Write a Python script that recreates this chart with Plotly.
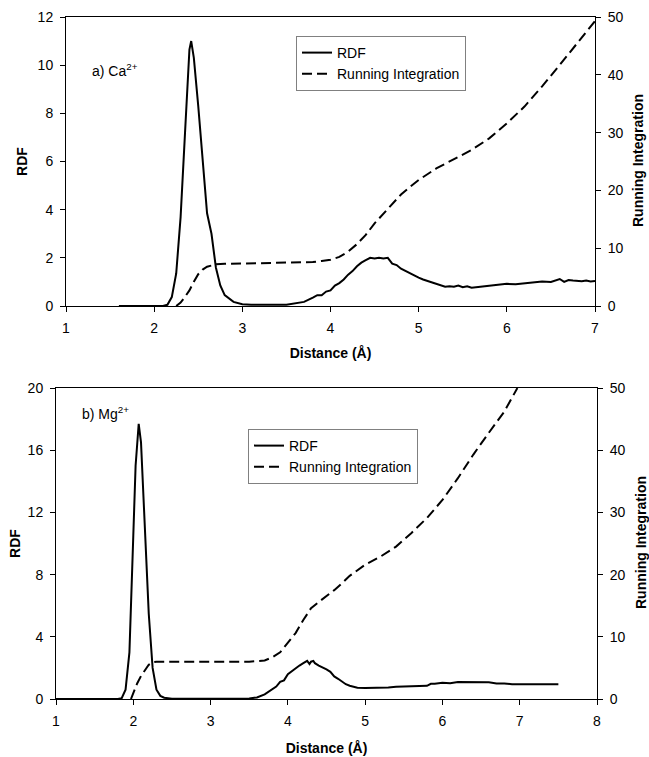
import plotly.graph_objects as go

# ---- Panel a) Ca2+ ----
ca_rdf_x = [1.6, 2.1, 2.15, 2.2, 2.25, 2.3, 2.35, 2.4, 2.42, 2.45, 2.5, 2.55, 2.6, 2.65, 2.7, 2.75, 2.8, 2.9,
            3.0, 3.1, 3.2, 3.3, 3.4, 3.5, 3.6, 3.7, 3.8, 3.85, 3.9, 3.95, 4.0, 4.05, 4.1, 4.15, 4.2, 4.25,
            4.3, 4.35, 4.4, 4.45, 4.5, 4.55, 4.6, 4.65, 4.7, 4.75, 4.8, 4.85, 4.9, 4.95, 5.0, 5.05, 5.1,
            5.15, 5.2, 5.25, 5.3, 5.35, 5.4, 5.45, 5.5, 5.55, 5.6, 5.7, 5.8, 5.9, 6.0, 6.1, 6.2, 6.3, 6.4,
            6.5, 6.55, 6.6, 6.65, 6.7, 6.75, 6.8, 6.85, 6.9, 6.95, 7.0]
ca_rdf_y = [0, 0, 0.05, 0.37, 1.35, 3.7, 7.2, 10.65, 11.0, 10.3, 8.3, 6.1, 3.85, 3.0, 1.6, 0.85, 0.45, 0.17,
            0.07, 0.05, 0.04, 0.04, 0.05, 0.05, 0.1, 0.17, 0.35, 0.45, 0.45, 0.6, 0.65, 0.85, 0.95, 1.1, 1.3, 1.45,
            1.65, 1.8, 1.9, 2.0, 1.97, 2.0, 1.97, 2.0, 1.76, 1.7, 1.55, 1.45, 1.37, 1.25, 1.18, 1.1, 1.04,
            0.95, 0.9, 0.85, 0.8, 0.82, 0.8, 0.85, 0.78, 0.82, 0.76, 0.8, 0.85, 0.87, 0.92, 0.9, 0.95, 1.0, 1.02,
            1.0, 1.05, 1.12, 1.0, 1.08, 1.06, 1.05, 1.03, 1.06, 1.02, 1.04]
ca_int_x = [2.25, 2.3, 2.35, 2.4, 2.45, 2.5, 2.55, 2.6, 2.7, 2.8, 3.0, 3.2, 3.5, 3.8, 3.9, 4.0, 4.1, 4.2,
            4.3, 4.4, 4.5, 4.6, 4.7, 4.8, 4.9, 5.0, 5.2, 5.4, 5.6, 5.8, 6.0, 6.2, 6.4, 6.6, 6.8, 7.0]
ca_int_y = [0, 0.6, 1.6, 2.7, 4.2, 5.5, 6.3, 6.8, 7.2, 7.3, 7.35, 7.4, 7.45, 7.6, 7.8, 8.0, 8.5, 9.4,
            10.7, 12.3, 14.3, 16.0, 17.7, 19.3, 20.6, 21.8, 23.8, 25.4, 27.0, 29.0, 31.6, 34.5, 38.0, 41.7, 45.5, 49.3]

# ---- Panel b) Mg2+ ----
mg_rdf_x = [1.0, 1.8, 1.85, 1.9, 1.95, 1.98, 2.0, 2.03, 2.07, 2.1, 2.13, 2.16, 2.2, 2.25, 2.3, 2.35, 2.4, 2.5,
            2.7, 3.0, 3.3, 3.5, 3.6, 3.7, 3.8, 3.85, 3.9, 3.95, 4.0, 4.05, 4.1, 4.15, 4.2, 4.25, 4.28, 4.3,
            4.33, 4.35, 4.4, 4.45, 4.5, 4.55, 4.6, 4.65, 4.7, 4.75, 4.8, 4.85, 4.9, 5.0, 5.1, 5.2, 5.3, 5.4,
            5.5, 5.6, 5.7, 5.8, 5.85, 5.9, 6.0, 6.1, 6.2, 6.3, 6.4, 6.5, 6.6, 6.7, 6.8, 6.9, 7.0, 7.1, 7.2,
            7.3, 7.4, 7.5]
mg_rdf_y = [0, 0, 0.05, 0.6, 3.0, 7.0, 10.5, 15.0, 17.7, 16.5, 13.0, 9.5, 5.5, 2.0, 0.6, 0.2, 0.08, 0.02,
            0.01, 0.01, 0.01, 0.03, 0.1, 0.3, 0.6, 0.8, 1.1, 1.2, 1.6, 1.8, 2.0, 2.15, 2.3, 2.45, 2.25, 2.4,
            2.45, 2.3, 2.15, 2.05, 1.9, 1.75, 1.45, 1.3, 1.1, 0.95, 0.85, 0.78, 0.73, 0.7, 0.7, 0.72, 0.74, 0.78,
            0.8, 0.8, 0.82, 0.85, 0.98, 0.98, 1.05, 1.02, 1.1, 1.1, 1.12, 1.12, 1.08, 1.0, 1.0, 0.95, 0.95, 0.93, 0.92,
            0.93, 0.94, 0.95]
mg_int_x = [1.97, 2.0, 2.05, 2.1, 2.15, 2.2, 2.25, 2.3, 2.5, 3.0, 3.5, 3.7, 3.8, 3.9, 4.0, 4.1, 4.2, 4.3,
            4.4, 4.5, 4.6, 4.7, 4.8, 5.0, 5.2, 5.4, 5.6, 5.8, 6.0, 6.2, 6.4, 6.6, 6.8, 6.97]
mg_int_y = [0, 1.0, 2.5, 3.7, 4.7, 5.5, 5.9, 6.0, 6.0, 6.0, 6.0, 6.2, 6.7, 7.5, 9.0, 10.6, 12.7, 14.6,
            15.6, 16.5, 17.5, 18.6, 19.8, 21.6, 22.9, 24.5, 26.7, 29.1, 32.0, 35.5, 39.3, 42.8, 46.2, 50.0]

series_names = ["RDF", "Running Integration"]
x_title = "Distance (Å)"
y_left_title = "RDF"
y_right_title = "Running Integration"

W, H = 649, 757
FONT = "Liberation Sans, Arial, sans-serif"

def dom_x(a, b):
    return [a / W, b / W]

def dom_y(top, bottom):
    return [1 - bottom / H, 1 - top / H]

fig = go.Figure()
solid = dict(color="black", width=2)
dashed = dict(color="black", width=2, dash="10px,5px")

fig.add_trace(go.Scatter(x=ca_rdf_x, y=ca_rdf_y, mode="lines", line=solid, name=series_names[0],
                         xaxis="x", yaxis="y", legend="legend"))
fig.add_trace(go.Scatter(x=ca_int_x, y=ca_int_y, mode="lines", line=dashed, name=series_names[1],
                         xaxis="x", yaxis="y2", legend="legend"))
fig.add_trace(go.Scatter(x=mg_rdf_x, y=mg_rdf_y, mode="lines", line=solid, name=series_names[0],
                         xaxis="x2", yaxis="y3", legend="legend2"))
fig.add_trace(go.Scatter(x=mg_int_x, y=mg_int_y, mode="lines", line=dashed, name=series_names[1],
                         xaxis="x2", yaxis="y4", legend="legend2"))

tickfont = dict(family=FONT, size=14, color="black")
titlefont = dict(family=FONT, size=14, color="black", weight="bold")
common = dict(showline=True, linecolor="black", linewidth=1, ticks="outside", ticklen=5,
              tickcolor="black", showgrid=False, zeroline=False, tickfont=tickfont, automargin=False,
              ticklabelstandoff=4)

legend_style = dict(xanchor="left", yanchor="top", bgcolor="white", bordercolor="#808080", borderwidth=1,
                    font=dict(family=FONT, size=14, color="black"), tracegroupgap=0, itemwidth=30)

annot_font = dict(family=FONT, size=14, color="black")

fig.update_layout(
    width=W, height=H, margin=dict(l=0, r=0, t=0, b=0),
    paper_bgcolor="white", plot_bgcolor="white",
    font=dict(family=FONT, size=14, color="black"),
    xaxis=dict(common, domain=dom_x(66, 595), range=[1, 7], dtick=1, anchor="y", mirror=True,
               title=dict(text=x_title, font=titlefont, standoff=13)),
    yaxis=dict(common, domain=dom_y(17, 306), range=[0, 12], dtick=2, anchor="x",
               title=dict(text=y_left_title, font=titlefont, standoff=6)),
    yaxis2=dict(common, range=[0, 50], dtick=10, overlaying="y", side="right", anchor="x"),
    xaxis2=dict(common, domain=dom_x(56, 597), range=[1, 8], dtick=1, anchor="y3", mirror=True,
                title=dict(text=x_title, font=titlefont, standoff=15)),
    yaxis3=dict(common, domain=dom_y(388, 699), range=[0, 20], dtick=4, anchor="x2",
                title=dict(text=y_left_title, font=titlefont, standoff=3)),
    yaxis4=dict(common, range=[0, 50], dtick=10, overlaying="y3", side="right", anchor="x2"),
    legend=dict(legend_style, x=296 / W, y=1 - 36 / H),
    legend2=dict(legend_style, x=248 / W, y=1 - 429 / H),
    annotations=[
        dict(text="a) Ca<sup>2+</sup>", x=90 / W, y=1 - 70 / H, xref="paper", yref="paper",
             xanchor="left", yanchor="middle", showarrow=False, font=annot_font),
        dict(text="b) Mg<sup>2+</sup>", x=80 / W, y=1 - 413 / H, xref="paper", yref="paper",
             xanchor="left", yanchor="middle", showarrow=False, font=annot_font),
        dict(text="<b>" + y_right_title + "</b>", x=638 / W, y=1 - 161 / H, xref="paper", yref="paper",
             xanchor="center", yanchor="middle", textangle=-90, showarrow=False, font=annot_font),
        dict(text="<b>" + y_right_title + "</b>", x=641 / W, y=1 - 543 / H, xref="paper", yref="paper",
             xanchor="center", yanchor="middle", textangle=-90, showarrow=False, font=annot_font),
    ],
)

fig.write_html("out.html", config={"displayModeBar": False},
               post_script="document.body.style.margin='0px';")
